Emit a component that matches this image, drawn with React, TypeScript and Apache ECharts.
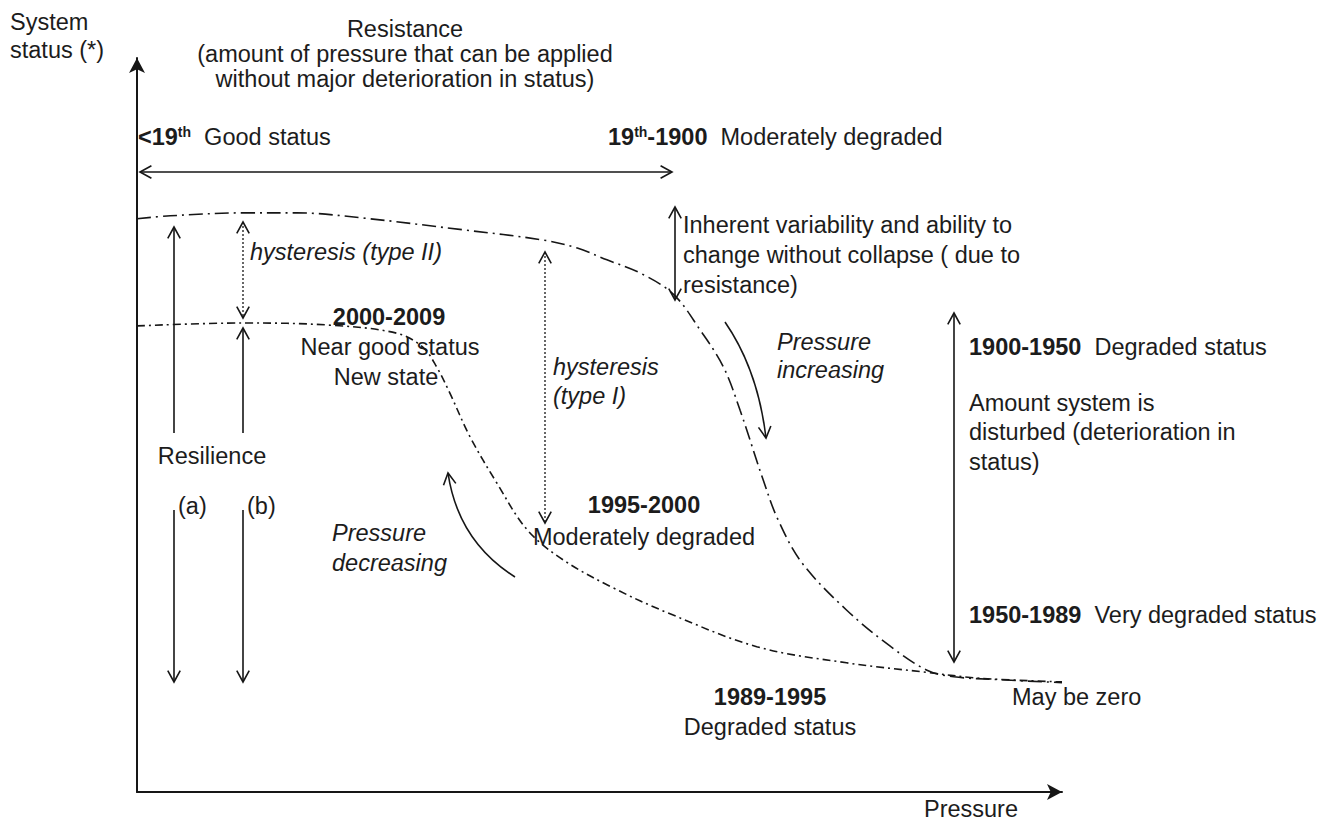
import React, { useEffect, useRef } from "react";
import * as echarts from "echarts";

// ---- data (pressure 0..100 on x, system status 0..100 on y) ----
// Upper curve: pressure increasing (dash-dot, long dashes)
const UPPER_X = [0, 3.6, 11.5, 17.3, 24.4, 35.2, 43.9, 47.6, 50.8, 54.4, 58.0, 60.9, 63.4, 65.2, 67.7, 69.3, 71.9, 76.7, 81.5, 85.4, 88.3, 93.3, 100];
const UPPER_Y = [78.1, 78.5, 78.9, 78.9, 78.2, 76.6, 75.2, 74.1, 72.5, 70.7, 67.8, 62.9, 57.9, 52.0, 42.5, 37.1, 31.2, 24.8, 19.8, 16.6, 15.7, 15.3, 14.9];
// Lower curve: pressure decreasing / recovery (dash-dot, short dashes)
const LOWER_X = [0, 11.5, 20.9, 28.1, 30.9, 32.4, 33.8, 36.0, 38.9, 42.2, 46.1, 51.5, 57.4, 67.0, 76.7, 85.4, 91.1, 100];
const LOWER_Y = [63.5, 63.9, 63.6, 62.5, 60.6, 57.9, 54.4, 48.4, 42.1, 35.7, 31.6, 27.8, 24.4, 19.8, 17.6, 16.3, 15.5, 15.0];

const FONT = '"Liberation Sans", Arial, Helvetica, sans-serif';
const FS = 23.5;
const INK = "#161616";
const TXT = "#1c1c1c";

const RICH = {
  b: { fontWeight: "bold", fontSize: FS, fontFamily: FONT, fill: TXT },
  sup: { fontWeight: "bold", fontSize: 14, fontFamily: FONT, fill: TXT, verticalAlign: "top" },
};

function txt(text: string, x: number, y: number, align = "left", extra: any = {}) {
  return {
    type: "text",
    x,
    y,
    silent: true,
    style: {
      text,
      fill: TXT,
      fontSize: FS,
      fontFamily: FONT,
      align,
      verticalAlign: "middle",
      rich: RICH,
      ...extra,
    },
  };
}

function seg(x1: number, y1: number, x2: number, y2: number, dotted = false) {
  return {
    type: "line",
    silent: true,
    shape: { x1, y1, x2, y2 },
    style: { stroke: INK, lineWidth: dotted ? 1.3 : 1.6, lineDash: dotted ? [2, 2] : null },
  };
}

function head(x: number, y: number, ang: number, len = 13, spr = 0.5) {
  return {
    type: "polyline",
    silent: true,
    shape: {
      points: [
        [x - len * Math.cos(ang - spr), y - len * Math.sin(ang - spr)],
        [x, y],
        [x - len * Math.cos(ang + spr), y - len * Math.sin(ang + spr)],
      ],
    },
    style: { stroke: INK, fill: "none", lineWidth: 1.6 },
  };
}

function arrow(x1: number, y1: number, x2: number, y2: number, both = false, dotted = false) {
  const a = Math.atan2(y2 - y1, x2 - x1);
  const out: any[] = [seg(x1, y1, x2, y2, dotted), head(x2, y2, a)];
  if (both) out.push(head(x1, y1, a + Math.PI));
  return out;
}

function curvedArrow(x1: number, y1: number, cx: number, cy: number, x2: number, y2: number) {
  const a = Math.atan2(y2 - cy, x2 - cx);
  return [
    {
      type: "bezierCurve",
      silent: true,
      shape: { x1, y1, x2, y2, cpx1: cx, cpy1: cy },
      style: { stroke: INK, fill: "none", lineWidth: 1.6 },
    },
    head(x2, y2, a),
  ];
}

const ITALIC = { fontStyle: "italic" };

const graphics: any[] = [
  // axis titles
  txt("System", 10, 22),
  txt("status (*)", 10, 50),
  txt("Pressure", 1018, 809, "right"),
  // resistance block
  txt("Resistance", 405, 29, "center"),
  txt("(amount of pressure that can be applied", 405, 54, "center"),
  txt("without major deterioration in status)", 405, 79, "center"),
  txt("{b|<19}{sup|th}  Good status", 138, 137),
  txt("{b|19}{sup|th}{b|-1900}  Moderately degraded", 608, 137),
  ...arrow(140, 172, 672, 172, true),
  // left resilience arrows
  ...arrow(174, 433, 174, 227),
  ...arrow(243, 433, 243, 328),
  ...arrow(174, 510, 174, 682),
  ...arrow(243, 510, 243, 682),
  txt("Resilience", 212, 456, "center"),
  txt("(a)", 178, 506),
  txt("(b)", 247, 506),
  // hysteresis type II
  ...arrow(243, 222, 243, 318, true, true),
  txt("hysteresis (type II)", 250, 252, "left", ITALIC),
  // new state
  txt("{b|2000-2009}", 389, 317, "center"),
  txt("Near good status", 390, 347, "center"),
  txt("New state", 386, 377, "center"),
  // hysteresis type I
  ...arrow(545, 252, 545, 523, true, true),
  txt("hysteresis", 553, 367, "left", ITALIC),
  txt("(type I)", 553, 396, "left", ITALIC),
  txt("{b|1995-2000}", 644, 505, "center"),
  txt("Moderately degraded", 644, 537, "center"),
  // pressure decreasing
  txt("Pressure", 332, 533, "left", ITALIC),
  txt("decreasing", 332, 563, "left", ITALIC),
  ...curvedArrow(515, 577, 458, 541, 448, 473),
  // inherent variability
  ...arrow(675, 207, 675, 300, true),
  txt("Inherent variability and ability to", 683, 225),
  txt("change without collapse ( due to", 683, 255),
  txt("resistance)", 683, 285),
  // pressure increasing
  txt("Pressure", 777, 342, "left", ITALIC),
  txt("increasing", 777, 370, "left", ITALIC),
  ...curvedArrow(725, 322, 758, 370, 766, 438),
  // right block
  ...arrow(954, 313, 954, 662, true),
  txt("{b|1900-1950}  Degraded status", 969, 347),
  txt("Amount system is", 969, 403),
  txt("disturbed (deterioration in", 969, 432),
  txt("status)", 969, 462),
  txt("{b|1950-1989}  Very degraded status", 969, 615),
  txt("May be zero", 1012, 697),
  txt("{b|1989-1995}", 770, 697, "center"),
  txt("Degraded status", 770, 727, "center"),
];

function zip(xs: number[], ys: number[]) {
  return xs.map((x, i) => [x, ys[i]]);
}

export default function App() {
  const ref = useRef<HTMLDivElement>(null);
  useEffect(() => {
    const chart = echarts.init(ref.current!, null, { renderer: "svg" });
    const axisCommon = {
      type: "value",
      min: 0,
      max: 100,
      axisLabel: { show: false },
      axisTick: { show: false },
      splitLine: { show: false },
      axisLine: {
        show: true,
        onZero: false,
        symbol: ["none", "arrow"],
        symbolSize: [12, 15],
        lineStyle: { color: INK, width: 2 },
      },
    };
    chart.setOption({
      animation: false,
      backgroundColor: "#ffffff",
      grid: { left: 137, right: 276, top: 58, bottom: 31 },
      xAxis: { ...axisCommon },
      yAxis: { ...axisCommon },
      series: [
        {
          name: "Pressure increasing",
          type: "line",
          data: zip(UPPER_X, UPPER_Y),
          smooth: 0.35,
          showSymbol: false,
          silent: true,
          lineStyle: { color: INK, width: 1.6, type: [14, 5, 2, 5] },
        },
        {
          name: "Pressure decreasing",
          type: "line",
          data: zip(LOWER_X, LOWER_Y),
          smooth: 0.35,
          showSymbol: false,
          silent: true,
          lineStyle: { color: INK, width: 1.6, type: [8, 4, 2, 4] },
        },
      ],
      graphic: graphics,
    });
    return () => chart.dispose();
  }, []);
  return (
    <div
      ref={ref}
      style={{ position: "absolute", left: 0, top: 0, width: 1338, height: 823, background: "#fff" }}
    />
  );
}
